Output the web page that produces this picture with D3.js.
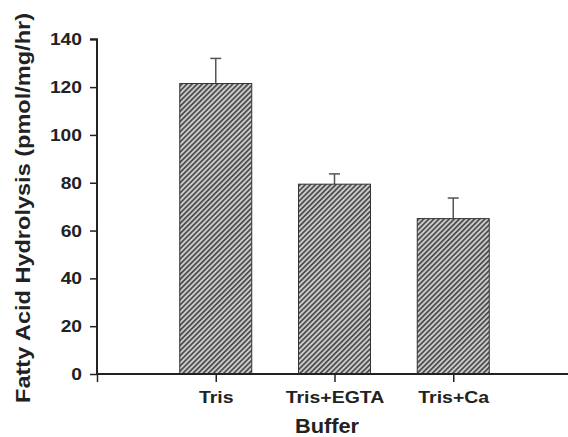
<!DOCTYPE html>
<html>
<head>
<meta charset="utf-8">
<script src="https://cdn.jsdelivr.net/npm/d3@7/dist/d3.min.js"></script>
<style>
  html, body { margin: 0; padding: 0; background: #fff; }
  svg text { font-family: "Liberation Sans", Arial, sans-serif; font-weight: bold; fill: #222; }
</style>
</head>
<body>
<svg id="chart" width="568" height="437"></svg>
<script>
// Fatty acid hydrolysis by buffer condition (mean + error)
const categories = ["Tris", "Tris+EGTA", "Tris+Ca"];
const means = [121.5, 79.4, 65.0];
const errors = [10.5, 4.3, 8.6];
const yTicks = [0, 20, 40, 60, 80, 100, 120, 140];

const svg = d3.select("#chart");
const plotLeft = 97, plotRight = 572, plotTop = 39.3, plotBottom = 374;

// categories sit at positions 1..3 on a 0..4 linear axis
const x = d3.scaleLinear().domain([0, 4]).range([plotLeft, plotRight]);
const y = d3.scaleLinear().domain([0, 140]).range([plotBottom, plotTop]);
const barW = 72;

// widen text horizontally by factor k (the typeface is set wide)
function widen(sel, k) {
  sel.each(function () {
    const w = this.getComputedTextLength();
    d3.select(this).attr("textLength", w * k).attr("lengthAdjust", "spacingAndGlyphs");
  });
}

// diagonal hatch fill
const defs = svg.append("defs");
const pat = defs.append("pattern")
  .attr("id", "hatch").attr("patternUnits", "userSpaceOnUse")
  .attr("width", 3.6).attr("height", 3.6)
  .attr("patternTransform", "rotate(45)");
pat.append("rect").attr("width", 3.6).attr("height", 3.6).attr("fill", "#cbcbcb");
pat.append("rect").attr("x", 0).attr("width", 1.7).attr("height", 3.6).attr("fill", "#4a4a4a");

// error bars (drawn first so bars cover the lower half)
const eg = svg.append("g").attr("stroke", "#555").attr("stroke-width", 1.5);
categories.forEach((c, i) => {
  const cx = x(i + 1);
  eg.append("line").attr("x1", cx).attr("x2", cx)
    .attr("y1", y(means[i])).attr("y2", y(means[i] + errors[i]));
  eg.append("line").attr("x1", cx - 5.5).attr("x2", cx + 5.5)
    .attr("y1", y(means[i] + errors[i])).attr("y2", y(means[i] + errors[i]));
});

// bars
svg.append("g").selectAll("rect").data(means).join("rect")
  .attr("x", (d, i) => x(i + 1) - barW / 2)
  .attr("y", d => y(d))
  .attr("width", barW)
  .attr("height", d => plotBottom - y(d))
  .attr("fill", "url(#hatch)")
  .attr("stroke", "#333").attr("stroke-width", 1);

// y axis
const yAxis = d3.axisLeft(y).tickValues(yTicks).tickSize(7).tickPadding(8);
const gy = svg.append("g").attr("transform", `translate(${plotLeft},0)`).call(yAxis);
gy.select(".domain").attr("stroke", "#222").attr("stroke-width", 2)
  .attr("d", `M-7,${plotTop}H0V${plotBottom}`);
gy.selectAll(".tick line").attr("stroke", "#222").attr("stroke-width", 1.5);
gy.selectAll(".tick text").style("font-size", "17px").attr("fill", "#222").call(widen, 1.13);

// x axis
const xAxis = d3.axisBottom(x).tickValues([0, 1, 2, 3]).tickSize(8)
  .tickFormat(d => d === 0 ? "" : categories[d - 1]).tickPadding(0);
const gx = svg.append("g").attr("transform", `translate(0,${plotBottom})`).call(xAxis);
gx.select(".domain").attr("stroke", "#222").attr("stroke-width", 2)
  .attr("d", `M${plotLeft},0H${plotRight}`);
gx.selectAll(".tick line").attr("stroke", "#222").attr("stroke-width", 1.5);
gx.selectAll(".tick text").style("font-size", "16.5px").attr("fill", "#222")
  .attr("dy", null).attr("y", 29.3).call(widen, 1.18);

// axis titles
svg.append("text").attr("x", 327).attr("y", 433)
  .attr("text-anchor", "middle").style("font-size", "20px").text("Buffer")
  .call(widen, 1.09);
svg.append("text")
  .attr("transform", `translate(30,208) rotate(-90)`)
  .attr("text-anchor", "middle").style("font-size", "21px")
  .text("Fatty Acid Hydrolysis (pmol/mg/hr)")
  .attr("textLength", 390).attr("lengthAdjust", "spacingAndGlyphs");
</script>
</body>
</html>
